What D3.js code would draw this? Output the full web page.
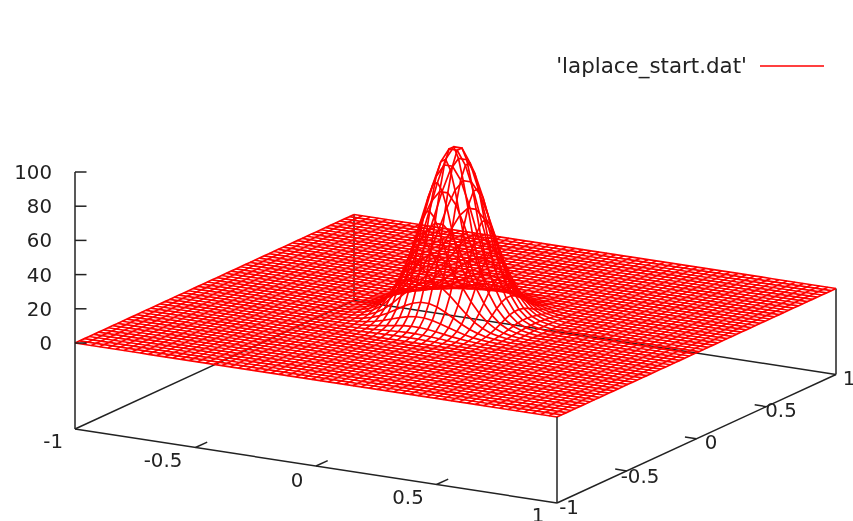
<!DOCTYPE html>
<html><head><meta charset="utf-8">
<script src="https://cdn.jsdelivr.net/npm/d3@7"></script>
<style>html,body{margin:0;padding:0;background:#fff}svg{display:block;filter:blur(0.4px)}text{font-family:"DejaVu Sans";font-size:19.8px;fill:#222}</style>
</head><body><svg id="c" width="853" height="521"></svg>
<script>
const seriesName = "'laplace_start.dat'";
const zTicks = [0, 20, 40, 60, 80, 100];
const xTicks = [-1, -0.5, 0, 0.5, 1];
const yTicks = [-1, -0.5, 0, 0.5, 1];
const gridPoints = 60;
// Heights read near the peak: one quadrant, rows/cols outward from the centre. Everything else is 0.
const peakQuadrant = [
 [97.8,89.7,75.4,58.1,41.0,26.6,15.8,8.6,4.3,2.0,0.8],
 [89.7,82.3,69.1,53.2,37.6,24.4,14.5,7.9,3.9,1.8,0.8],
 [75.4,69.1,58.1,44.7,31.6,20.5,12.2,6.6,3.3,1.5,0.6],
 [58.1,53.2,44.7,34.5,24.4,15.8,9.4,5.1,2.5,1.2,0.5],
 [41.0,37.6,31.6,24.4,17.2,11.2,6.6,3.6,1.8,0.8,0.3],
 [26.6,24.4,20.5,15.8,11.2,7.2,4.3,2.3,1.2,0.5,0.2],
 [15.8,14.5,12.2,9.4,6.6,4.3,2.6,1.4,0.7,0.3,0.1],
 [8.6,7.9,6.6,5.1,3.6,2.3,1.4,0.8,0.4,0.2,0.1],
 [4.3,3.9,3.3,2.5,1.8,1.2,0.7,0.4,0.2,0.1,0.0],
 [2.0,1.8,1.5,1.2,0.8,0.5,0.3,0.2,0.1,0.0,0.0],
 [0.8,0.8,0.6,0.5,0.3,0.2,0.1,0.1,0.0,0.0,0.0]
];

const xPx = d3.scaleLinear().domain([-1,1]).range([0,482]);
const xPy = d3.scaleLinear().domain([-1,1]).range([0,74]);
const yPx = d3.scaleLinear().domain([-1,1]).range([0,279]);
const yPy = d3.scaleLinear().domain([-1,1]).range([0,-128.5]);
const zPy = d3.scaleLinear().domain([0,100]).range([-86,-257]);
const X0 = 75, Y0 = 429;
const P = (x,y,z) => [X0 + xPx(x) + yPx(y), Y0 + xPy(x) + yPy(y) + zPy(z)];
const zBase = -50.3;

const svg = d3.select("#c");
const line = d3.line();
const ink = "#222";
function seg(g,a,b,w){ g.append("path").attr("d",line([a,b])).attr("fill","none").attr("stroke",ink).attr("stroke-width",w||1.5); }

const idx = d3.range(gridPoints);
const coord = d3.scaleLinear().domain([0,gridPoints-1]).range([-1,1]);
const half = gridPoints/2;
const zAt = (i,j) => {
  const a = i < half ? half-1-i : i-half;
  const b = j < half ? half-1-j : j-half;
  return (a < peakQuadrant.length && b < peakQuadrant.length) ? peakQuadrant[a][b] : 0;
};

const back = svg.append("g");
seg(back,P(-1,-1,zBase),P(-1,1,zBase));
seg(back,P(-1,1,zBase),P(1,1,zBase));
seg(back,P(-1,1,zBase),P(-1,1,0));
seg(back,P(1,1,zBase),P(1,1,0));

const mesh = svg.append("g").attr("fill","none").attr("stroke","#ff0000").attr("stroke-width",1.7);
idx.forEach(i => mesh.append("path").attr("d",line(idx.map(j => P(coord(i),coord(j),zAt(i,j))))));
idx.forEach(j => mesh.append("path").attr("d",line(idx.map(i => P(coord(i),coord(j),zAt(i,j))))));

const front = svg.append("g");
seg(front,P(-1,-1,zBase),P(1,-1,zBase));
seg(front,P(1,-1,zBase),P(1,1,zBase));
seg(front,P(1,-1,zBase),P(1,-1,0));
seg(front,[X0,Y0+zPy(100)],[X0,Y0]);

zTicks.forEach(z => {
  const y = Y0+zPy(z);
  seg(front,[X0,y],[X0+11.5,y]);
  front.append("text").attr("x",52).attr("y",y+7).attr("text-anchor","end").text(z);
});
const xLabelAt = {"-1":[63,448],"-0.5":[163,467],"0":[297,487],"0.5":[408,504],"1":[538,522]};
xTicks.forEach(t => {
  if (Math.abs(t)<1) seg(front,P(t,-1,zBase),P(t,-0.916,zBase));
  front.append("text").attr("x",xLabelAt[t][0]).attr("y",xLabelAt[t][1])
    .attr("text-anchor",t===-1?"end":"middle").text(t);
});
const yLabelAt = {"-1":[569,514],"-0.5":[640,483],"0":[711,449],"0.5":[781,417],"1":[849,385]};
yTicks.forEach(t => {
  if (Math.abs(t)<1) seg(front,P(1,t,zBase),P(0.952,t,zBase));
  front.append("text").attr("x",yLabelAt[t][0]).attr("y",yLabelAt[t][1])
    .attr("text-anchor","middle").text(t);
});

front.append("text").attr("x",747).attr("y",73).attr("text-anchor","end").style("font-size","21.4px").text(seriesName);
svg.append("path").attr("d",line([[760,66],[824,66]])).attr("stroke","#ff0000").attr("stroke-width",1.5);
</script></body></html>
